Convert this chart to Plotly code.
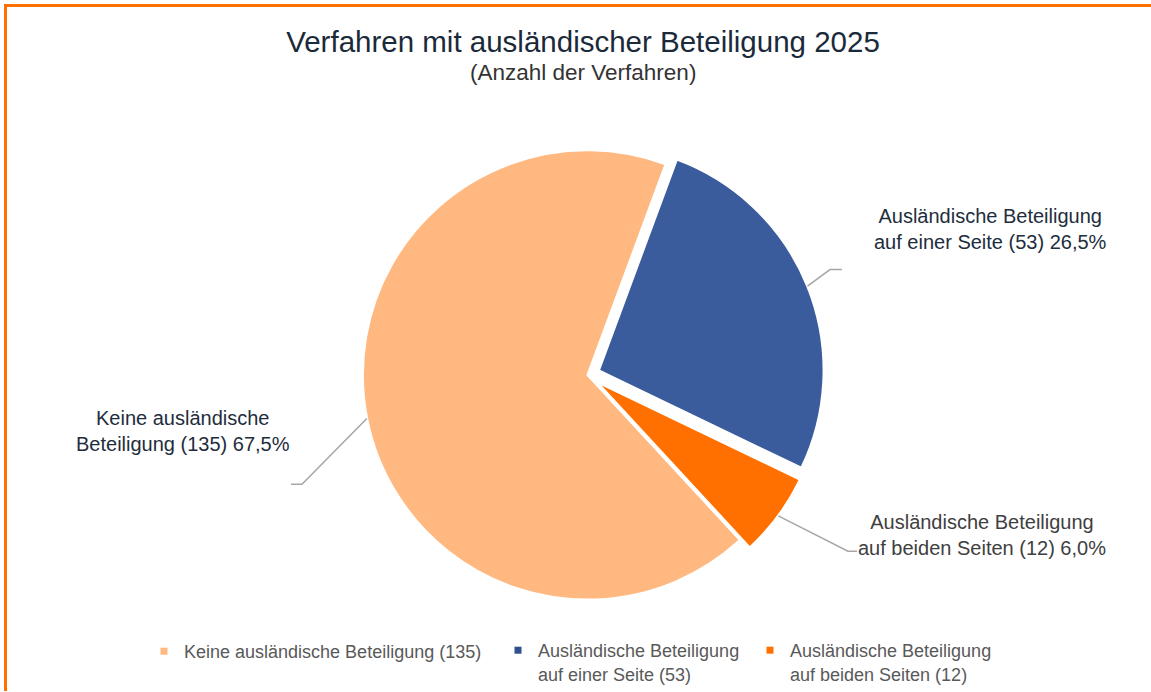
import math
import plotly.graph_objects as go

W, H = 1151, 692

# ---- data ----
legend_names = [
    "Keine ausländische Beteiligung",
    "Ausländische Beteiligung<br>auf einer Seite",
    "Ausländische Beteiligung<br>auf beiden Seiten",
]
label_names = [
    "Keine ausländische<br>Beteiligung",
    "Ausländische Beteiligung<br>auf einer Seite",
    "Ausländische Beteiligung<br>auf beiden Seiten",
]
counts = [135, 53, 12]

# ---- style ----
colors = ["#FFB880", "#3A5C9C", "#FF7000"]
legend_marker_colors = ["#FFB880", "#2F4F8F", "#FF7000"]
label_colors = ["#1E2D3D", "#1E2D3D", "#404040"]
pulls = [0, 0.055, 0.055]
rotation = 137.3
font_family = "Liberation Sans, Arial, sans-serif"
pie_center = (587.5, 375.5)   # px
pie_half = 237.3              # px, half size of the pie box
dom_x = [(pie_center[0] - pie_half) / W, (pie_center[0] + pie_half) / W]
dom_y = [1 - (pie_center[1] + pie_half) / H, 1 - (pie_center[1] - pie_half) / H]
# label placement in pixels (elbow point, tail end, label centre)
elbows = [(302, 485), (830, 270), (848, 552)]
tails = [(291, 485), (842, 270), (857, 552)]
label_pos = [(183, 432), (990, 229), (982, 536)]
# legend text start x (px) for each entry
legend_text_x = [184, 538, 790]
legend_top = 633

total = sum(counts)
pct = [f"{v / total * 100:.1f}".replace(".", ",") + "%" for v in counts]

fig = go.Figure()
fig.add_trace(go.Pie(
    labels=[f"{n} ({v})" for n, v in zip(legend_names, counts)],
    values=counts,
    sort=False,
    direction="clockwise",
    rotation=rotation,
    pull=pulls,
    marker=dict(colors=colors, line=dict(color="white", width=2)),
    textinfo="none",
    hoverinfo="label+percent",
    showlegend=False,
    domain=dict(x=dom_x, y=dom_y),
))

legend_ids = ["legend", "legend2", "legend3"]
# legend entries with small square markers, each in its own legend box
for n, v, c, lid in zip(legend_names, counts, legend_marker_colors, legend_ids):
    fig.add_trace(go.Scatter(
        x=[None], y=[None], mode="markers",
        marker=dict(symbol="square", size=7, color=c),
        name=f"{n} ({v})", showlegend=True, legend=lid,
    ))

# geometry of pie (same as plotly's own)
bw = (dom_x[1] - dom_x[0]) * W
bh = (dom_y[1] - dom_y[0]) * H
r = min(bw, bh) / (2 * (1 + max(pulls)))
cx = (dom_x[0] + dom_x[1]) / 2 * W
cy = (1 - (dom_y[0] + dom_y[1]) / 2) * H


def px(x):
    return x / W


def py(y):
    return 1 - y / H


shapes = []
annotations = []
start = rotation
for i, v in enumerate(counts):
    span = v / total * 360
    mid = math.radians(start + span / 2)
    start += span
    dx, dy = math.sin(mid), -math.cos(mid)
    rr = r * (1 + pulls[i])
    sx, sy = cx + rr * dx, cy + rr * dy
    ex, ey = elbows[i]
    tx, ty = tails[i]
    shapes.append(dict(
        type="path", xref="paper", yref="paper",
        path=f"M{px(sx)},{py(sy)} L{px(ex)},{py(ey)} L{px(tx)},{py(ty)}",
        line=dict(color="#A6A6A6", width=1.5),
    ))
    lx, ly = label_pos[i]
    annotations.append(dict(
        x=px(lx), y=py(ly), xref="paper", yref="paper",
        xanchor="center", yanchor="middle",
        text=f"{label_names[i]} ({v}) {pct[i]}",
        showarrow=False, align="center",
        font=dict(size=20, color=label_colors[i], family=font_family),
    ))

# subtitle
annotations.append(dict(
    x=px(583), y=py(73), xref="paper", yref="paper",
    xanchor="center", yanchor="middle",
    text="(Anzahl der Verfahren)", showarrow=False,
    font=dict(size=22.5, color="#333333", family=font_family),
))

# orange frame (top and left)
shapes.append(dict(type="line", xref="paper", yref="paper",
                   x0=px(4), x1=1, y0=py(5.5), y1=py(5.5),
                   line=dict(color="#FF7000", width=3)))
shapes.append(dict(type="line", xref="paper", yref="paper",
                   x0=px(5.5), x1=px(5.5), y0=0, y1=py(4),
                   line=dict(color="#FF7000", width=3)))

legend_style = dict(
    orientation="h", xanchor="left", yanchor="top",
    y=py(legend_top),
    font=dict(size=18, color="#595959", family=font_family),
    valign="top", itemclick=False, itemdoubleclick=False,
    bgcolor="rgba(0,0,0,0)",
)

fig.update_layout(
    width=W, height=H,
    margin=dict(l=0, r=0, t=0, b=0),
    paper_bgcolor="white", plot_bgcolor="white",
    title=dict(
        text="Verfahren mit ausländischer Beteiligung 2025",
        x=583 / W, xanchor="center", y=1 - 42 / H, yanchor="middle",
        font=dict(size=29.5, color="#1B2A3A", family=font_family),
    ),
    xaxis=dict(visible=False), yaxis=dict(visible=False),
    legend=dict(x=px(legend_text_x[0] - 40), **legend_style),
    legend2=dict(x=px(legend_text_x[1] - 40), **legend_style),
    legend3=dict(x=px(legend_text_x[2] - 40), **legend_style),
    shapes=shapes,
    annotations=annotations,
)

fig.write_html("out.html", config={"displayModeBar": False},
               post_script="document.body.style.margin='0';")
